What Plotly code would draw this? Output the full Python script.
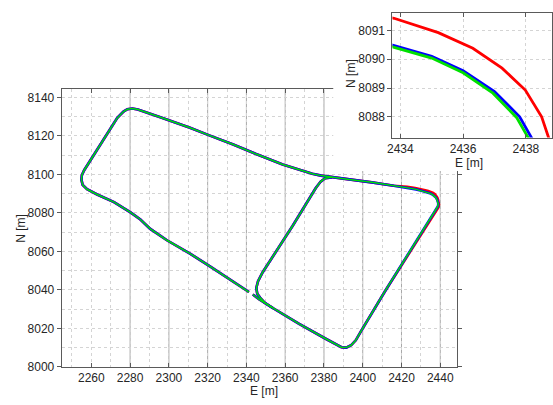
import plotly.graph_objects as go

# ---------------- data (E, N in metres) ----------------
# shared part: start near the gap, SE to bottom corner, up the right edge
track_a_E = [2343.3, 2346.7, 2353.6, 2367.2, 2380.9, 2386.0, 2389.0, 2391.5, 2394.0,
             2396.4, 2399.6, 2411.5, 2425.2]
track_a_N = [8037.6, 8035.0, 8030.6, 8022.3, 8014.6, 8011.6, 8010.2, 8010.0, 8011.2,
             8013.8, 8019.4, 8039.3, 8061.2]

# north-east corner, different for each solution
corner_red_E = [2436.0, 2438.4, 2439.1, 2439.35, 2439.2, 2438.9, 2438.5, 2437.98, 2437.24,
                2436.31, 2435.21, 2433.8, 2432.3, 2430.0, 2427.0, 2423.0, 2419.5, 2416.0]
corner_red_N = [8078.5, 8081.9, 8083.0, 8084.4, 8085.6, 8086.7, 8088.0, 8088.93, 8089.69,
                8090.38, 8090.92, 8091.42, 8091.85, 8092.4, 8093.0, 8093.6, 8094.0, 8094.15]

corner_blue_E = [2436.0, 2438.0, 2438.8, 2439.0, 2438.85, 2438.45, 2437.8, 2437.0, 2436.0,
                 2435.0, 2433.9, 2432.6, 2430.3, 2427.5, 2424.0, 2420.0, 2416.0]
corner_blue_N = [8078.5, 8081.9, 8083.5, 8084.8, 8085.8, 8086.75, 8088.0, 8088.88, 8089.6,
                 8090.1, 8090.48, 8090.9, 8091.55, 8092.25, 8092.9, 8093.55, 8094.15]

corner_green_E = [2436.0, 2437.9, 2438.7, 2438.95, 2438.75, 2438.35, 2437.7, 2436.95, 2436.0,
                  2435.0, 2433.9, 2432.6, 2430.3, 2427.5, 2424.0, 2420.0, 2416.0]
corner_green_N = [8078.5, 8081.9, 8083.4, 8084.7, 8085.8, 8086.75, 8087.98, 8088.82, 8089.53,
                  8090.04, 8090.42, 8090.85, 8091.5, 8092.25, 8092.9, 8093.55, 8094.15]

# shared part: top edge westwards, around the left block, back to the gap
track_b_E = [2404.7, 2392.0, 2384.0, 2378.5, 2374.0, 2367.2, 2358.7, 2345.0, 2333.2,
             2321.2, 2310.9, 2295.6, 2288.0, 2284.0, 2281.2, 2278.6, 2276.6, 2273.4,
             2256.3, 2255.1, 2254.9, 2255.5, 2257.8, 2263.0, 2271.7, 2280.2, 2285.3,
             2290.4, 2299.0, 2310.9, 2321.2, 2334.8, 2341.3]
track_b_N = [8095.9, 8097.5, 8098.5, 8099.4, 8100.4, 8102.4, 8105.2, 8110.6, 8115.6,
             8120.2, 8124.3, 8129.7, 8132.5, 8133.8, 8134.3, 8133.9, 8132.7, 8129.4,
             8102.2, 8099.6, 8097.2, 8094.6, 8092.3, 8089.6, 8085.6, 8080.3, 8076.6,
             8071.7, 8065.8, 8058.9, 8052.2, 8043.5, 8038.9]

# branch: west side of the right block
branch_E = [2384.0, 2380.6, 2378.3, 2375.7, 2363.8, 2357.0, 2348.4, 2346.0, 2345.1,
            2345.6, 2347.0, 2349.5, 2353.6]
branch_N = [8098.5, 8098.0, 8096.3, 8092.8, 8073.2, 8062.4, 8049.2, 8044.5, 8041.0,
            8038.0, 8036.0, 8033.3, 8030.6]

series_names = ["red", "blue", "green"]
series_colors = ["#ff0000", "#0000ff", "#00e000"]
main_widths = [2.6, 2.6, 1.5]
corners = [(corner_red_E, corner_red_N), (corner_blue_E, corner_blue_N),
           (corner_green_E, corner_green_N)]

main_xticks = list(range(2260, 2441, 20))
main_yticks = list(range(8000, 8141, 20))
inset_xticks = [2434, 2436, 2438]
inset_yticks = [8088, 8089, 8090, 8091]

# ---------------- figure ----------------
FONT = "Arial, Liberation Sans, sans-serif"
TXT = "#262626"
AXC = "#5a5a5a"
GRID = "#d4d4d4"

fig = go.Figure()


def full_track(cE, cN):
    E = track_a_E + cE + track_b_E + [None] + branch_E
    N = track_a_N + cN + track_b_N + [None] + branch_N
    return E, N


for name, col, lw, (cE, cN) in zip(series_names, series_colors, main_widths, corners):
    E, N = full_track(cE, cN)
    fig.add_trace(go.Scatter(x=E, y=N, mode="lines", name=name,
                             line=dict(color=col, width=lw), xaxis="x", yaxis="y",
                             showlegend=False, hoverinfo="skip"))

# white background panel behind the inset
fig.add_trace(go.Scatter(x=[0, 1, 1, 0, 0], y=[0, 0, 1, 1, 0], fill="toself",
                         fillcolor="white", line=dict(width=0), mode="lines",
                         xaxis="x2", yaxis="y2", showlegend=False, hoverinfo="skip"))

for name, col, (cE, cN) in zip(series_names, series_colors, corners):
    E, N = full_track(cE, cN)
    fig.add_trace(go.Scatter(x=E, y=N, mode="lines", name=name + " zoom",
                             line=dict(color=col, width=2.8), xaxis="x3", yaxis="y3",
                             showlegend=False, hoverinfo="skip"))

W, H = 553, 405


def px_x(p):
    return p / W


def px_y(p):
    return 1 - p / H


tickfont = dict(family=FONT, size=12, color=TXT)

fig.update_layout(
    width=W, height=H, margin=dict(l=0, r=0, t=0, b=0),
    paper_bgcolor="white", plot_bgcolor="white", showlegend=False,
    font=dict(family=FONT, size=12, color=TXT),
    xaxis=dict(domain=[px_x(57.3), px_x(456.7)], range=[2244.7, 2448.5], anchor="y",
               tickvals=main_xticks, ticks="inside", ticklen=4, tickcolor=AXC,
               showline=True, linecolor=AXC, mirror="ticks", zeroline=False,
               showgrid=True, gridcolor=GRID, griddash="dot",
               minor=dict(dtick=10, tick0=2250, showgrid=True, gridcolor=GRID, griddash="dot"),
               tickfont=tickfont),
    yaxis=dict(domain=[px_y(373.3), px_y(91)], range=[8000, 8144.2], anchor="x",
               tickvals=main_yticks, ticks="outside", ticklen=4, tickcolor=AXC,
               showline=True, linecolor=AXC, mirror="ticks", zeroline=False,
               showgrid=True, gridcolor=GRID, griddash="dot",
               minor=dict(dtick=10, tick0=8000, showgrid=True, gridcolor=GRID, griddash="dot"),
               tickfont=tickfont),
    xaxis2=dict(domain=[px_x(332), 1.0], range=[0, 1], visible=False, anchor="y2",
                fixedrange=True),
    yaxis2=dict(domain=[px_y(174), 1.0], range=[0, 1], visible=False, anchor="x2",
                fixedrange=True),
    xaxis3=dict(domain=[px_x(391.7), 1.0], range=[2433.75, 2438.83], anchor="y3",
                tickvals=inset_xticks, ticks="inside", ticklen=4, tickcolor=AXC,
                showline=True, linecolor=AXC, mirror="ticks", zeroline=False,
                showgrid=True, gridcolor=GRID, griddash="dot", tickfont=tickfont),
    yaxis3=dict(domain=[px_y(140), px_y(13.3)], range=[8087.28, 8091.6], anchor="x3",
                tickvals=inset_yticks, ticks="outside", ticklen=4, tickcolor=AXC,
                showline=True, linecolor=AXC, mirror=True, zeroline=False,
                showgrid=True, gridcolor=GRID, griddash="dot", tickfont=tickfont),
)

# darker solid vertical guide lines of the main plot
for xv in main_xticks[1:]:
    fig.add_shape(type="line", xref="x", yref="y domain", x0=xv, x1=xv, y0=0, y1=1,
                  line=dict(color="#a8a8a8", width=1), layer="below")

titles = [
    ("N [m]", 16, 232, -90),
    ("E [m]", 262, 398, 0),
    ("N [m]", 350, 75, -90),
    ("E [m]", 469, 166, 0),
]
for text, x, y, ang in titles:
    fig.add_annotation(text=text, x=px_x(x), y=px_y(y), xref="paper", yref="paper",
                       showarrow=False, textangle=ang, xanchor="center", yanchor="middle",
                       font=dict(family=FONT, size=12, color=TXT))

fig.write_html("out.html",
               config={"displayModeBar": False, "staticPlot": True},
               post_script="document.body.style.margin='0px';"
                           "document.body.style.overflow='hidden';")
